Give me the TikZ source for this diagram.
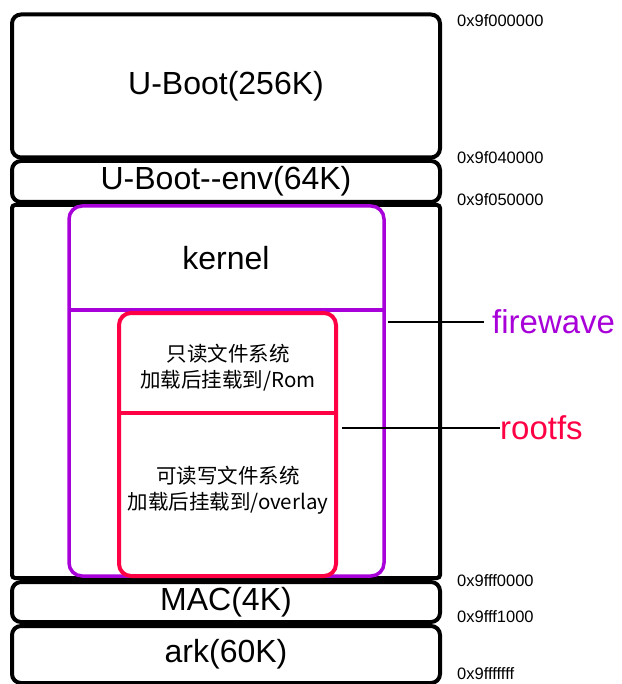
\documentclass[tikz,border=0pt]{standalone}
\usepackage{fontspec}
\setmainfont{Liberation Sans}
\newfontfamily\cjk{Noto Sans CJK SC}
\definecolor{fwpurple}{HTML}{A800D8}
\definecolor{rfred}{HTML}{FF0044}
\tikzset{
  cell/.style={draw=black, line width=4pt, rounded corners=9pt, fill=white,
    minimum width=428pt, inner sep=0pt, font=\fontsize{32}{36}\selectfont},
  region/.style={line width=3.5pt, rounded corners=13pt, inner sep=0pt},
  addr/.style={anchor=west, inner sep=0pt, font=\fontsize{16.5}{18}\selectfont},
  cjktext/.style={align=center, inner sep=0pt, font=\cjk\fontsize{20.5}{26}\selectfont},
  tag/.style={anchor=west, inner sep=0pt, font=\fontsize{33}{36}\selectfont},
  leader/.style={draw=black, line width=1.8pt}
}
\begin{document}
\begin{tikzpicture}[x=1pt,y=-1pt]
\useasboundingbox (0,0) rectangle (621,684);
% memory cells
\node[cell, minimum height=143pt] (uboot) at (226,86) {U-Boot(256K)};
\node[cell, minimum height=41pt] (env) at (226,181.5) {U-Boot-{}-env(64K)};
\node[cell, minimum height=373pt, rounded corners=3pt] (mid) at (226,391.5) {};
\node[cell, minimum height=40pt] (mac) at (226,602) {MAC(4K)};
\node[cell, minimum height=57pt] (ark) at (226,654.5) {ark(60K)};
% firewave region
\node[region, draw=fwpurple, minimum width=315pt, minimum height=370pt] (fw) at (226.5,391) {};
\draw[fwpurple, line width=3.5pt] (69,310) -- (384,310);
\node[inner sep=0pt, font=\fontsize{32}{36}\selectfont] (kernel) at (226,258) {kernel};
% rootfs region
\node[region, draw=rfred, line width=4pt, rounded corners=12pt, minimum width=217pt, minimum height=263pt] (rf) at (227.5,444.5) {};
\draw[rfred, line width=4pt] (119,413) -- (336,413);
\node[cjktext] (ro) at (228,368) {只读文件系统\\加载后挂载到/Rom};
\node[cjktext] (rw) at (228,490) {可读写文件系统\\加载后挂载到/overlay};
% labels
\node[tag, text=fwpurple] (fwlabel) at (492,322) {firewave};
\node[tag, text=rfred] (rflabel) at (500,428) {rootfs};
\draw[leader] (fw.east |- fwlabel.west) ++(2,0) -- ([xshift=-8pt]fwlabel.west);
\draw[leader] ([xshift=4pt]rf.east |- rflabel.west) -- (rflabel.west);
% addresses
\node[addr] (a0) at (457,21) {0x9f000000};
\node[addr] (a1) at (457,158) {0x9f040000};
\node[addr] (a2) at (457,200) {0x9f050000};
\node[addr] (a3) at (457,581) {0x9fff0000};
\node[addr] (a4) at (457,617) {0x9fff1000};
\node[addr] (a5) at (457,674) {0x9fffffff};
\end{tikzpicture}
\end{document}
